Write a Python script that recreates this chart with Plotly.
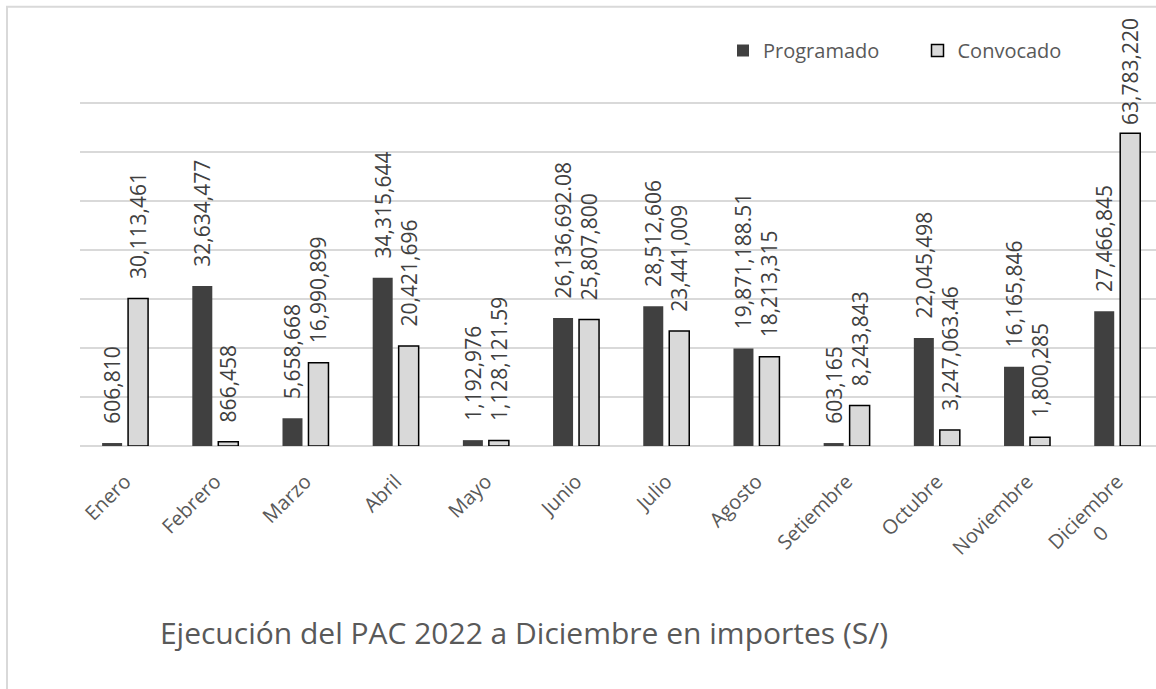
import plotly.graph_objects as go

meses = ["Enero", "Febrero", "Marzo", "Abril", "Mayo", "Junio", "Julio",
         "Agosto", "Setiembre", "Octubre", "Noviembre", "Diciembre"]
tick_labels = ["Enero", "Febrero", "Marzo", "Abril", "Mayo", "Junio", "Julio",
               "Agosto", "Setiembre", "Octubre", "Noviembre",
               "Diciembre<br>0" + "\u00a0" * 9]
programado = [606810, 32634477, 5658668, 34315644, 1192976, 26136692.08,
              28512606, 19871188.51, 603165, 22045498, 16165846, 27466845]
convocado = [30113461, 866458, 16990899, 20421696, 1128121.59, 25807800,
             23441009, 18213315, 8243843, 3247063.46, 1800285, 63783220]
titulo = "Ejecución del PAC 2022 a Diciembre en importes (S/)"

FONT = "Open Sans"
PAD = "\u00a0\u00a0\u00a0"
PAD_TOP = "\u00a0"   # label pushed down where it would leave the chart area


def fmt(v):
    if float(v) != int(v):
        return f"{v:,.2f}"
    return f"{int(v):,}"


W, H = 1156, 689
YMAX = 71e6
L, R, B = 80, 0, 689 - 446
T = 446 - 70 * 4.9 * YMAX / 70e6  # keep 10M per 49px

conv_text = [PAD + fmt(v) for v in convocado]
conv_text[-1] = PAD_TOP + fmt(convocado[-1])

fig = go.Figure()
fig.add_trace(go.Bar(
    name="Programado", x=meses, y=programado,
    text=[PAD + fmt(v) for v in programado],
    textposition="outside", textangle=-90, constraintext="none",
    cliponaxis=False,
    textfont=dict(family=FONT, size=21, color="#404040"),
    marker=dict(color="#404040", line=dict(width=0)),
))
fig.add_trace(go.Bar(
    name="Convocado", x=meses, y=convocado,
    text=conv_text,
    textposition="outside", textangle=-90, constraintext="none",
    cliponaxis=False,
    textfont=dict(family=FONT, size=21, color="#404040"),
    marker=dict(color="#d9d9d9", line=dict(width=1.5, color="#000000")),
))

fig.update_layout(
    width=W, height=H,
    margin=dict(l=L, r=R, t=T, b=B, pad=0),
    paper_bgcolor="white", plot_bgcolor="white",
    barmode="group", bargap=0.424, bargroupgap=0.23,
    font=dict(family=FONT, color="#595959"),
    title=dict(text=titulo, x=524 / W, xanchor="center", xref="container",
               y=1 - 633 / H, yanchor="middle", yref="container",
               font=dict(family=FONT, size=30, color="#595959")),
    legend=dict(orientation="h", xref="container", yref="container",
                x=723 / W, xanchor="left", y=1 - 31 / H, yanchor="top",
                font=dict(family=FONT, size=20, color="#595959"),
                entrywidth=149.5, bgcolor="rgba(0,0,0,0)", traceorder="normal"),
    xaxis=dict(type="category", range=[-0.5, 11.43],
               tickmode="array", tickvals=meses, ticktext=tick_labels,
               tickangle=-45, ticks="outside", ticklen=15,
               tickcolor="rgba(0,0,0,0)",
               tickfont=dict(family=FONT, size=20, color="#595959"),
               showgrid=False, showline=False, zeroline=False),
    yaxis=dict(range=[0, YMAX], tick0=0, dtick=10e6, showticklabels=False,
               showgrid=True, gridcolor="#d9d9d9", gridwidth=1.5,
               zeroline=True, zerolinecolor="#d9d9d9", zerolinewidth=1.5,
               showline=False, ticks=""),
    shapes=[dict(type="rect", xref="paper", yref="paper",
                 x0=(7 - L) / (W - L - R), x1=1.2,
                 y0=-1.5, y1=(446 - 7) / (446 - T),
                 line=dict(color="#d9d9d9", width=2), layer="below")],
)

fig.write_html("out.html",
               config={"displayModeBar": False},
               post_script="document.body.style.margin='0';"
                           "document.body.style.overflow='hidden';")
